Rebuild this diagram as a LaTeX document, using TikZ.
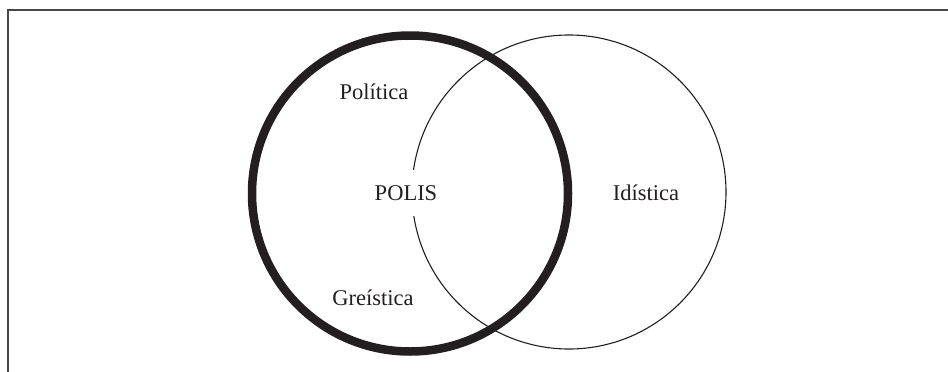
\documentclass[tikz,border=0pt]{standalone}
\usepackage{fontspec}
\setmainfont{Liberation Serif}
\definecolor{ink}{HTML}{231F20}
\begin{document}
\begin{tikzpicture}[x=1pt,y=-1pt,
  frameline/.style={draw=black!72,line width=1.4pt},
  thickring/.style={draw=ink,line width=8.5pt},
  thinring/.style={draw=ink,line width=1.1pt},
  lbl/.style={font=\fontsize{22.5}{26}\selectfont,text=ink,inner sep=2pt}]
\useasboundingbox (0,0) rectangle (948,372);
\coordinate (tl) at (8,10);
\coordinate (tr) at (948,10);
\coordinate (bl) at (8,372);
\draw[frameline] (bl) -- (tl) -- (tr);
\coordinate (cA) at (410,193.5);
\coordinate (cB) at (569,192);
\draw[thinring] (cB) circle (157);
\node[lbl,fill=white,inner xsep=3pt,inner ysep=15pt] (polis) at (406,193) {POLIS};
\draw[thickring] (cA) circle (158);
\node[lbl] (politica) at (374,92) {Política};
\node[lbl] (greistica) at (373,298) {Greística};
\node[lbl] (idistica) at (646,193) {Idística};
\end{tikzpicture}
\end{document}
